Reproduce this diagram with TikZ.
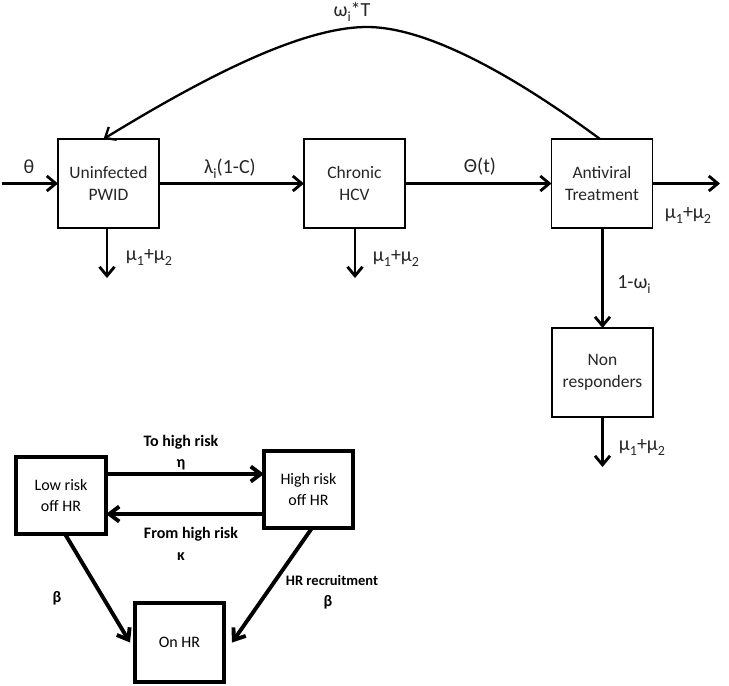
\documentclass[tikz,border=0pt]{standalone}
\usepackage{fontspec}
\setmainfont{Carlito}
\usetikzlibrary{arrows.meta,calc}
\newcommand\mysub[1]{\raisebox{-0.25em}{\fontsize{14}{14}\selectfont #1}}
\begin{document}
\begin{tikzpicture}[x=1pt,y=-1pt,
  box/.style={draw, line width=1.8pt, minimum width=101pt, minimum height=89pt, align=center,
    font=\fontsize{17.5}{22}\selectfont, text=black!85, inner sep=0pt, outer sep=0pt},
  bbox/.style={draw, line width=3.3pt, align=center, font=\fontsize{16}{21}\selectfont,
    inner sep=0pt, outer sep=0pt},
  arr/.style={line width=2.8pt, -{Straight Barb[length=9pt,width=15pt]}},
  barr/.style={line width=3.9pt, -{Straight Barb[length=10pt,width=15pt]}},
  lab/.style={font=\fontsize{20}{22}\selectfont, text=black!85, inner sep=0pt},
  blab/.style={font=\bfseries\fontsize{16}{20}\selectfont, inner sep=0pt}]
\useasboundingbox (0,0) rectangle (729,686);

% top model
\node[box] (un) at (108.5,183.5) {Uninfected\\PWID};
\node[box] (ch) at (354.5,183.5) {Chronic\\HCV};
\node[box] (av) at (602,183.5) {Antiviral\\Treatment};
\node[box] (nr) at (602.5,372.5) {Non\\responders};

\coordinate (src) at (2,183.5);
\coordinate (out) at (720,183.5);
\coordinate (unD) at (107,278);
\coordinate (chD) at (355,278);
\coordinate (nrD) at (602.5,467);
\coordinate (apex) at (367,27);

\draw[arr] (src) -- (un.west);
\draw[arr] (un.east) -- (ch.west);
\draw[arr] (ch.east) -- (av.west);
\draw[arr] (av.east) -- (out);
\draw[arr] (un.south -| unD) -- (unD);
\draw[arr] (ch.south -| chD) -- (chD);
\draw[arr] (av.south -| nr.north) -- (nr.north);
\draw[arr] (nr.south) -- (nrD);
\draw[line width=2.3pt, -{Straight Barb[length=9pt,width=15pt]}]
  ([xshift=-2pt]av.north) .. controls (520,80) and (430,27) .. (apex)
  .. controls (300,27) and (200,80) .. ([xshift=-5pt]un.north);

\node[lab] (lth) at (29,167) {θ};
\node[lab] (llam) at (230,169) {λ\mysub{i}(1-C)};
\node[lab] (lTh) at (480,167) {Θ(t)};
\node[lab] (lom) at (352,12) {ω\mysub{i}*T};
\node[lab] (lmuA) at (688,215) {μ\mysub{1}+μ\mysub{2}};
\node[lab] (lmuU) at (149,257) {μ\mysub{1}+μ\mysub{2}};
\node[lab] (lmuC) at (396,258) {μ\mysub{1}+μ\mysub{2}};
\node[lab] (lnr) at (634,285) {1-ω\mysub{i}};
\node[lab] (lmuN) at (642,447) {μ\mysub{1}+μ\mysub{2}};

% bottom model
\node[bbox, minimum width=90pt, minimum height=77pt] (lo) at (61,495.5) {Low risk\\off HR};
\node[bbox, minimum width=89pt, minimum height=77pt] (hi) at (308.5,489.5) {High risk\\off HR};
\node[bbox, minimum width=89pt, minimum height=79pt] (on) at (179.5,642.5) {On HR};
\coordinate (ye) at (0,474);
\coordinate (yk) at (0,514);
\draw[barr] (lo.east |- ye) -- (hi.west |- ye);
\draw[barr] (hi.west |- yk) -- (lo.east |- yk);
\draw[barr] ([xshift=4pt]lo.south) -- ([xshift=-5pt]on.west);
\draw[barr] ([xshift=3.5pt]hi.south) -- ([xshift=8pt]on.east);

\node[blab] (lto) at (181,442) {To high risk};
\node[blab] (leta) at (181,465) {η};
\node[blab] (lfrom) at (191,534) {From high risk};
\node[blab] (lkap) at (181,557) {κ};
\node[blab] (lbL) at (57,598) {β};
\node[blab, font=\bfseries\fontsize{14.5}{18}\selectfont] (lrec) at (332,580) {HR recruitment};
\node[blab] (lbR) at (328,602) {β};
\end{tikzpicture}
\end{document}
